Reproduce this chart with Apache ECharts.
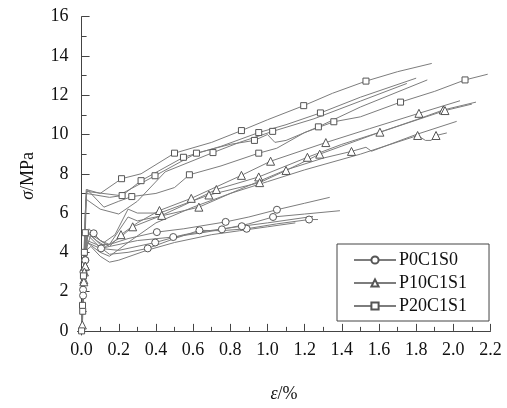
<!DOCTYPE html>
<html>
<head>
<meta charset="utf-8">
<script src="https://cdn.jsdelivr.net/npm/echarts@6/dist/echarts.min.js"></script>
<style>
html, body { margin: 0; padding: 0; background: #fff; }
#container { width: 507px; height: 408px; }
</style>
</head>
<body>
<div id="container"></div>
<script>
// Curvas tensão-deformação: [deformação %, tensão MPa]
var p0_a = [[0,0],[0.004,1.0],[0.008,2.1],[0.012,3.0],[0.018,4.2],[0.025,5.0],[0.065,4.97],[0.1,4.6],[0.15,4.4],[0.25,4.7],[0.405,5.03],[0.55,5.2],[0.775,5.55],[0.9,5.8],[1.051,6.17],[1.2,6.5],[1.335,6.8]];
var p0_b = [[0,0],[0.005,1.5],[0.01,3.0],[0.016,4.0],[0.03,4.9],[0.105,4.2],[0.15,4.3],[0.3,4.6],[0.493,4.78],[0.65,5.0],[0.755,5.17],[0.9,5.45],[1.03,5.8],[1.2,5.95],[1.39,6.12]];
var p0_c = [[0,0],[0.006,1.3],[0.012,2.8],[0.02,3.6],[0.03,4.6],[0.08,4.4],[0.15,3.9],[0.25,4.0],[0.356,4.2],[0.5,4.7],[0.634,5.12],[0.75,5.1],[0.888,5.2],[1.05,5.45],[1.224,5.67],[1.272,5.67]];
var p0_d = [[0,0],[0.005,1.2],[0.01,2.4],[0.02,3.6],[0.03,4.5],[0.1,4.2],[0.2,4.1],[0.396,4.5],[0.55,4.9],[0.685,5.1],[0.862,5.33],[1.0,5.5],[1.245,5.83]];
var p0_e = [[0,0],[0.008,1.8],[0.015,3.2],[0.025,4.1],[0.05,4.3],[0.1,3.8],[0.15,3.5],[0.2,3.6],[0.35,4.1],[0.5,4.5],[0.7,4.9],[0.85,5.1],[1.0,5.3],[1.15,5.5]];

var p10_a = [[0,0],[0.004,0.3],[0.01,1.5],[0.02,3.3],[0.028,4.5],[0.04,5.2],[0.1,4.6],[0.15,4.3],[0.212,4.9],[0.3,5.5],[0.419,6.13],[0.59,6.75],[0.86,7.92],[1.017,8.64],[1.314,9.59],[1.55,10.3],[1.815,11.08],[2.036,11.72]];
var p10_b = [[0,0],[0.006,1.0],[0.012,2.6],[0.02,4.0],[0.03,5.0],[0.08,4.6],[0.13,4.3],[0.2,4.7],[0.275,5.3],[0.431,5.88],[0.55,6.4],[0.725,7.2],[0.953,7.84],[1.215,8.84],[1.4,9.5],[1.605,10.12],[1.8,10.75],[1.946,11.25],[2.122,11.65]];
var p10_c = [[0,0],[0.005,0.8],[0.012,2.0],[0.02,3.3],[0.03,4.3],[0.05,4.9],[0.12,4.5],[0.18,4.9],[0.25,6.2],[0.3,6.0],[0.42,6.0],[0.685,6.92],[0.958,7.55],[1.1,8.17],[1.281,9.0],[1.6,10.1],[1.955,11.22],[2.1,11.55]];
var p10_d = [[0,0],[0.008,1.4],[0.015,3.0],[0.025,4.4],[0.035,5.0],[0.1,4.4],[0.15,4.4],[0.25,5.8],[0.3,5.6],[0.45,5.9],[0.631,6.3],[0.85,7.2],[1.1,8.2],[1.3,8.8],[1.452,9.14],[1.53,9.35],[1.56,9.15],[1.8,10.0],[2.018,10.67]];
var p10_e = [[0,0],[0.006,1.2],[0.012,2.5],[0.02,3.7],[0.03,4.5],[0.1,4.0],[0.15,3.8],[0.25,4.5],[0.4,5.5],[0.6,6.3],[0.8,7.0],[1.0,7.6],[1.2,8.2],[1.5,9.0],[1.808,9.95],[1.85,9.7],[1.88,9.7],[1.907,9.95],[1.965,10.08]];

var p20_a = [[0,0],[0.005,1.2],[0.01,2.8],[0.015,4.5],[0.02,6.0],[0.025,7.2],[0.1,7.0],[0.215,7.75],[0.32,8.0],[0.5,9.05],[0.7,9.6],[0.86,10.2],[1.0,10.75],[1.195,11.47],[1.35,12.1],[1.53,12.72],[1.7,13.2],[1.884,13.62]];
var p20_b = [[0,0],[0.006,1.0],[0.012,3.0],[0.018,5.0],[0.025,7.0],[0.15,6.8],[0.218,6.89],[0.32,7.65],[0.548,8.84],[0.75,9.4],[0.953,10.1],[1.1,10.5],[1.285,11.1],[1.5,11.9],[1.8,12.87]];
var p20_c = [[0,0],[0.005,1.3],[0.012,3.5],[0.02,6.0],[0.028,7.1],[0.2,6.9],[0.395,7.9],[0.618,9.05],[0.8,9.5],[0.93,9.7],[1.0,10.0],[1.04,9.6],[1.1,9.7],[1.274,10.39],[1.5,11.4],[1.86,12.78]];
var p20_d = [[0,0],[0.007,1.5],[0.015,4.0],[0.022,6.5],[0.03,7.2],[0.12,6.3],[0.2,6.6],[0.27,6.84],[0.4,7.0],[0.5,7.3],[0.58,7.95],[0.75,8.4],[0.953,9.05],[1.05,9.3],[1.2,10.1],[1.357,10.65],[1.5,10.9],[1.716,11.65],[1.9,12.2],[2.063,12.78],[2.185,13.07]];
var p20_e = [[0,0],[0.006,1.1],[0.012,2.5],[0.02,5.0],[0.025,6.7],[0.1,6.2],[0.2,5.95],[0.3,6.6],[0.45,8.1],[0.707,9.08],[0.85,9.6],[1.028,10.16],[1.25,10.8],[1.5,11.7],[1.75,12.6]];

// Índices dos pontos que levam marcador
var p0_marks = [[2,6,10,12,14],[2,5,8,10,12],[3,8,10,12,14],[3,7,10],[1]];
var p10_marks = [[1,3,8,10,11,12,13,14,16],[2,8,9,11,12,13,15,17],[3,11,12,13,14,16],[2,10,14],[2,14,17]];
var p20_marks = [[0,2,7,9,11,13,15],[1,6,7,8,10,12],[1,6,7,9,13],[2,7,10,12,15,17,19],[3,9,11]];

var legendNames = ['P0C1S0', 'P10C1S1', 'P20C1S1'];
var xMajor = [0, 0.2, 0.4, 0.6, 0.8, 1.0, 1.2, 1.4, 1.6, 1.8, 2.0, 2.2];
var xMinor = [0.1, 0.3, 0.5, 0.7, 0.9, 1.1, 1.3, 1.5, 1.7, 1.9, 2.1];
var yMajor = [0, 2, 4, 6, 8, 10, 12, 14, 16];
var yMinor = [1, 3, 5, 7, 9, 11, 13, 15];

var serif = 'Liberation Serif';

function buildSeries(name, curves, marks, symbol, size) {
    return curves.map(function(curve, k) {
        return {
            name: name,
            type: 'line',
            symbol: symbol,
            symbolSize: size,
            showSymbol: true,
            showAllSymbol: true,
            lineStyle: { color: '#7d7d7d', width: 1 },
            itemStyle: { color: '#fff', borderColor: '#555', borderWidth: 1 },
            emphasis: { disabled: true },
            z: 2,
            data: curve.map(function(p, i) {
                return marks[k].indexOf(i) >= 0 ? { value: p } : { value: p, symbol: 'none' };
            })
        };
    });
}

var series = []
    .concat(buildSeries(legendNames[0], [p0_a, p0_b, p0_c, p0_d, p0_e], p0_marks, 'circle', 7))
    .concat(buildSeries(legendNames[1], [p10_a, p10_b, p10_c, p10_d, p10_e], p10_marks, 'triangle', 8))
    .concat(buildSeries(legendNames[2], [p20_a, p20_b, p20_c, p20_d, p20_e], p20_marks, 'rect', 6));

var dom = document.getElementById('container');
var myChart = echarts.init(dom, null, { renderer: 'canvas' });

var axisLine = { show: true, lineStyle: { color: '#444', width: 1 } };

var option = {
    animation: false,
    backgroundColor: '#fff',
    grid: { left: 77.5, right: 16.5, top: 16.7, bottom: 67, containLabel: false },
    legend: {
        data: legendNames,
        orient: 'vertical',
        left: 337,
        top: 244,
        padding: [7, 22, 6, 16],
        itemWidth: 42,
        itemHeight: 9,
        itemGap: 5,
        borderColor: '#444',
        borderWidth: 1,
        backgroundColor: '#fff',
        textStyle: { fontFamily: serif, fontSize: 18, color: '#111', padding: [0, 0, 0, -2] }
    },
    xAxis: [{
        type: 'value',
        min: -0.022,
        max: 2.2,
        name: '{i|ε}/%',
        nameLocation: 'middle',
        nameGap: 50,
        nameTextStyle: {
            fontFamily: serif, fontSize: 18, color: '#111',
            rich: { i: { fontFamily: serif, fontSize: 18, fontStyle: 'italic', color: '#111' } }
        },
        axisLine: axisLine,
        axisTick: { show: true, inside: true, length: 7, customValues: xMajor, lineStyle: { color: '#444' } },
        axisLabel: { customValues: xMajor, margin: 6, fontFamily: serif, fontSize: 18, color: '#111',
            formatter: function(v) { return v.toFixed(1); } },
        splitLine: { show: false }
    }, {
        type: 'value',
        position: 'bottom',
        min: -0.022,
        max: 2.2,
        axisLine: { show: false },
        axisTick: { show: true, inside: true, length: 4, customValues: xMinor, lineStyle: { color: '#444' } },
        axisLabel: { show: false },
        splitLine: { show: false }
    }],
    yAxis: [{
        type: 'value',
        min: -0.21,
        max: 16,
        name: '{i|σ}/MPa',
        nameLocation: 'middle',
        nameGap: 40,
        nameTextStyle: {
            fontFamily: serif, fontSize: 18, color: '#111',
            rich: { i: { fontFamily: serif, fontSize: 18, fontStyle: 'italic', color: '#111' } }
        },
        axisLine: axisLine,
        axisTick: { show: true, inside: true, length: 8, customValues: yMajor, lineStyle: { color: '#444' } },
        axisLabel: { customValues: yMajor, margin: 9, fontFamily: serif, fontSize: 18, color: '#111' },
        splitLine: { show: false }
    }, {
        type: 'value',
        position: 'left',
        min: -0.21,
        max: 16,
        axisLine: { show: false },
        axisTick: { show: true, inside: true, length: 5, customValues: yMinor, lineStyle: { color: '#444' } },
        axisLabel: { show: false },
        splitLine: { show: false }
    }],
    series: series
};

myChart.setOption(option);

window.addEventListener('resize', function() {
    myChart.resize();
});
</script>
</body>
</html>
